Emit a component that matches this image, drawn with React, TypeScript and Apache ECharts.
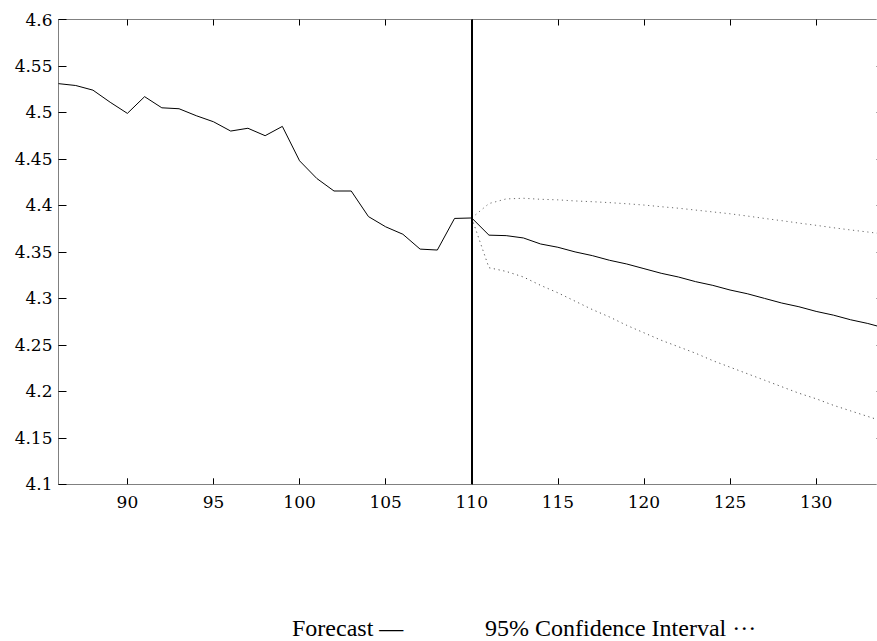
import React, { useEffect, useRef } from "react";
import * as echarts from "echarts";

const actualX = [86, 87, 88, 89, 90, 91, 92, 93, 94, 95, 96, 97, 98, 99, 100, 101, 102, 103, 104, 105, 106, 107, 108, 109, 110];
const actualY = [4.531, 4.529, 4.524, 4.511, 4.499, 4.517, 4.505, 4.504, 4.4965, 4.49, 4.48, 4.483, 4.475, 4.485, 4.448, 4.429, 4.4155, 4.4155, 4.388, 4.377, 4.369, 4.353, 4.352, 4.386, 4.3865];

const fcX = [110, 111, 112, 113, 114, 115, 116, 117, 118, 119, 120, 121, 122, 123, 124, 125, 126, 127, 128, 129, 130, 131, 132, 133, 134];
const fcY = [4.3865, 4.368, 4.3675, 4.365, 4.3585, 4.355, 4.35, 4.346, 4.341, 4.337, 4.332, 4.327, 4.323, 4.318, 4.314, 4.309, 4.305, 4.3, 4.295, 4.291, 4.286, 4.282, 4.277, 4.273, 4.268];
const upperY = [4.3865, 4.402, 4.407, 4.4077, 4.4066, 4.406, 4.4048, 4.404, 4.403, 4.4018, 4.4004, 4.3986, 4.397, 4.395, 4.393, 4.391, 4.3886, 4.386, 4.3836, 4.381, 4.3786, 4.376, 4.3736, 4.3714, 4.369];
const lowerY = [4.3865, 4.333, 4.329, 4.323, 4.314, 4.306, 4.297, 4.288, 4.28, 4.271, 4.263, 4.255, 4.248, 4.241, 4.233, 4.226, 4.219, 4.212, 4.205, 4.198, 4.192, 4.185, 4.179, 4.173, 4.167];

const xTicks = [90, 95, 100, 105, 110, 115, 120, 125, 130];
const yTicks = [4.1, 4.15, 4.2, 4.25, 4.3, 4.35, 4.4, 4.45, 4.5, 4.55, 4.6];
const cutoff = 110;
const legendLabels = ["Forecast \u2014", "95% Confidence Interval \u00b7\u00b7\u00b7"];

const pairs = (xs: number[], ys: number[]) => xs.map((x, i) => [x, ys[i]]);

export default function App() {
  const ref = useRef<HTMLDivElement>(null);
  useEffect(() => {
    const chart = echarts.init(ref.current!, undefined, { renderer: "svg" });
    const axisLineStyle = { color: "#808080", width: 1 };
    const labelFont = { fontFamily: "DejaVu Serif", fontSize: 17, color: "#000" };
    chart.setOption({
      animation: false,
      backgroundColor: "#fff",
      grid: { left: 58.5, top: 19.5, right: 1, bottom: 156.7, containLabel: false },
      xAxis: [
        {
          type: "value", min: 86, max: 134, position: "bottom",
          axisLine: { show: true, lineStyle: axisLineStyle },
          axisTick: { show: true, inside: true, length: 6, customValues: xTicks, lineStyle: { color: "#000" } },
          axisLabel: { show: true, customValues: xTicks, margin: 9, ...labelFont },
          splitLine: { show: false },
        },
        {
          type: "value", min: 86, max: 134, position: "top",
          axisLine: { show: true, lineStyle: axisLineStyle },
          axisTick: { show: true, inside: true, length: 6, customValues: xTicks, lineStyle: { color: "#000" } },
          axisLabel: { show: false },
          splitLine: { show: false },
        },
      ],
      yAxis: [
        {
          type: "value", min: 4.1, max: 4.6, position: "left",
          axisLine: { show: true, lineStyle: axisLineStyle },
          axisTick: { show: true, inside: true, length: 8, customValues: yTicks, lineStyle: { color: "#000" } },
          axisLabel: {
            show: true, customValues: yTicks, margin: 6, ...labelFont,
            formatter: (v: number) => String(parseFloat(v.toFixed(2))),
          },
          splitLine: { show: false },
        },
        {
          type: "value", min: 4.1, max: 4.6, position: "right",
          axisLine: { show: true, lineStyle: axisLineStyle },
          axisTick: { show: true, inside: true, length: 9, customValues: yTicks, lineStyle: { color: "#aaa" } },
          axisLabel: { show: false },
          splitLine: { show: false },
        },
      ],
      series: [
        {
          name: "Actual", type: "line", data: pairs(actualX, actualY), symbol: "none",
          lineStyle: { color: "#000", width: 1 },
        },
        {
          name: "Forecast", type: "line", data: pairs(fcX, fcY), symbol: "none",
          lineStyle: { color: "#000", width: 1 },
          markLine: {
            silent: true, symbol: "none", label: { show: false },
            lineStyle: { color: "#000", width: 2, type: "solid" },
            data: [{ xAxis: cutoff }],
          },
        },
        {
          name: "Upper", type: "line", data: pairs(fcX, upperY), symbol: "none",
          lineStyle: { color: "#6a6a6a", width: 1, type: [1.2, 3.6] },
        },
        {
          name: "Lower", type: "line", data: pairs(fcX, lowerY), symbol: "none",
          lineStyle: { color: "#555", width: 1, type: [1.2, 3.6] },
        },
      ],
      graphic: [
        {
          type: "text", left: 292, top: 616,
          style: { text: legendLabels[0], font: "24px 'Liberation Serif'", fill: "#000" },
        },
        {
          type: "text", left: 485, top: 616,
          style: { text: legendLabels[1], font: "24px 'Liberation Serif'", fill: "#000" },
        },
      ],
    });
    return () => chart.dispose();
  }, []);
  return (
    <div style={{ position: "fixed", left: 0, top: 0, width: 877, height: 641, overflow: "hidden", background: "#fff" }}>
      <div ref={ref} style={{ width: 886, height: 641 }} />
    </div>
  );
}
